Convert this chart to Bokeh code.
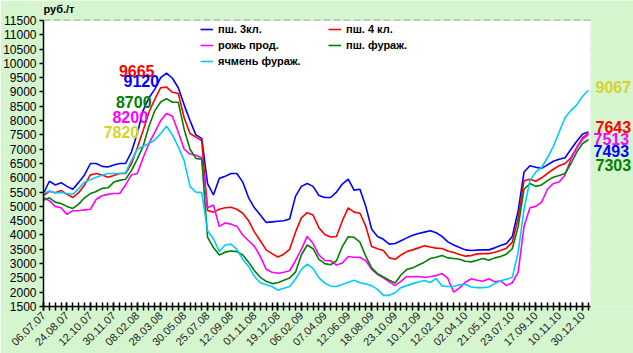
import math
from bokeh.plotting import figure
from bokeh.models import FixedTicker, Range1d, Legend, LegendItem, Label, BoxAnnotation
from bokeh.embed import file_html
from bokeh.resources import INLINE

# category tick labels (every 4th point)
tick_labels = ["06.07.07", "24.08.07", "12.10.07", "30.11.07", "08.02.08", "28.03.08",
               "30.05.08", "25.07.08", "12.09.08", "01.11.08", "19.12.08", "06.02.09",
               "07.04.09", "12.06.09", "18.08.09", "23.10.09", "10.12.09", "12.02.10",
               "02.04.10", "21.05.10", "23.07.10", "17.09.10", "10.11.10", "30.12.10"]

y_ticks = list(range(1500, 11501, 500))

wheat3 = [5450, 5880, 5750, 5830, 5700, 5600, 5840, 6100, 6500, 6500,
          6400, 6380, 6450, 6500, 6500, 6900, 7550, 8360, 8800, 9100,
          9500, 9660, 9480, 9150, 8550, 8000, 7500, 7380, 5800, 5400,
          5980, 6050, 6150, 6150, 5850, 5300, 4950, 4700, 4440, 4460,
          4480, 4500, 4560, 5350, 5700, 5800, 5700, 5380, 5310, 5310,
          5500, 5780, 5950, 5570, 5600, 5000, 4200, 3950, 3850, 3680,
          3700, 3800, 3900, 3990, 4050, 4100, 4150, 4080, 3950, 3760,
          3650, 3560, 3480, 3460, 3470, 3480, 3480, 3550, 3630, 3700,
          3950, 4850, 6200, 6420, 6370, 6330, 6450, 6580, 6650, 6700,
          7000, 7280, 7530, 7600]

wheat4 = [5380, 5530, 5480, 5560, 5420, 5310, 5480, 5750, 6100, 6150,
          6100, 6020, 6080, 6150, 6150, 6480, 7050, 7650, 8300, 8750,
          9150, 9170, 8990, 8950, 8100, 7550, 7420, 7300, 4860, 4800,
          4900, 4950, 4970, 4900, 4760, 4500, 4100, 3800, 3480, 3350,
          3230, 3330, 3500, 4100, 4600, 4780, 4700, 4250, 4020, 3930,
          3950, 4500, 4950, 4800, 4760, 4300, 3600, 3520, 3460, 3200,
          3150, 3300, 3420, 3480, 3550, 3620, 3580, 3540, 3530, 3440,
          3390, 3320, 3260, 3280, 3340, 3350, 3350, 3400, 3460, 3540,
          3750, 4600, 5900, 5950, 5880, 6000, 6150, 6300, 6420, 6500,
          6700, 7050, 7400, 7550]

rye = [5310, 5200, 5000, 4950, 4720, 4850, 4850, 4880, 4900, 5250,
       5370, 5420, 5450, 5450, 5750, 6100, 6150, 6700, 7200, 7600,
       8000, 8250, 8150, 7600, 7000, 6830, 6790, 6700, 4950, 5050,
       4300, 4420, 4380, 4300, 4000, 3800, 3600, 3250, 2800, 2700,
       2660, 2700, 2750, 3100, 3500, 3950, 3700, 3300, 3110, 3100,
       2950, 3020, 3250, 3220, 3220, 3100, 2800, 2620, 2500, 2360,
       2230, 2380, 2550, 2540, 2550, 2520, 2540, 2580, 2650, 2480,
       2000, 2150, 2350, 2470, 2420, 2380, 2470, 2360, 2400, 2230,
       2330, 2700, 4300, 4950, 5000, 5150, 5600, 5800, 5850, 6100,
       6650, 7050, 7350, 7520]

wheat_feed = [5210, 5300, 5150, 5100, 5000, 4930, 5080, 5300, 5450, 5520,
              5630, 5650, 5850, 5910, 5950, 6250, 6650, 7100, 7800, 8350,
              8650, 8770, 8640, 8640, 7700, 7000, 6680, 6650, 3920, 3560,
              3300, 3400, 3440, 3420, 3300, 3050, 2750, 2520, 2380, 2300,
              2330, 2420, 2500, 2700, 3300, 3650, 3520, 3150, 3000, 2960,
              3100, 3600, 3940, 3920, 3750, 3250, 2850, 2650, 2530, 2420,
              2320, 2600, 2800, 2850, 2950, 3050, 3180, 3220, 3280, 3200,
              3180, 3150, 3080, 3060, 3120, 3180, 3120, 3200, 3250, 3330,
              3520, 4300, 5600, 5800, 5700, 5750, 5900, 6020, 6080, 6150,
              6500, 6900, 7200, 7340]

barley_feed = [5450, 5540, 5470, 5490, 5450, 5420, 5620, 5850, 5930, 6020,
               6090, 6150, 6150, 6150, 6170, 6600, 7000, 7100, 7200, 7320,
               7550, 7800, 7500, 7080, 6600, 5700, 5500, 5480, 4150, 3870,
               3420, 3650, 3680, 3500, 3150, 2900, 2550, 2330, 2260, 2200,
               2070, 2140, 2200, 2450, 2800, 2980, 2830, 2500, 2320, 2210,
               2200, 2270, 2350, 2420, 2330, 2290, 2230, 2100, 1890, 1890,
               1980, 2160, 2230, 2300, 2360, 2410, 2340, 2480, 2220, 2200,
               2200, 2260, 2280, 2180, 2160, 2160, 2180, 2300, 2400, 2450,
               2520, 3400, 4900, 5900, 6200, 6360, 6700, 7100, 7600, 8100,
               8350, 8550, 8850, 9060]

series_names = ["пш. 3кл.", "пш. 4 кл.", "рожь прод.", "пш. фураж.", "ячмень фураж."]
series_colors = ["#0000ff", "#ff0000", "#ff00ff", "#008000", "#00ccff"]
series_data = [wheat3, wheat4, rye, wheat_feed, barley_feed]

# peak annotations: (text, x index, value, colour, y offset px)
peak_notes = [("9665", 15.9, 9665, "#ff0000", 2),
              ("9120", 16.7, 9120, "#0000ff", 8),
              ("8700", 15.4, 8700, "#008000", -1),
              ("8200", 14.8, 8200, "#ff00ff", -2),
              ("7820", 13.3, 7820, "#d4d42c", -6)]
# final-value annotations: (text, value, colour, x offset px, y offset px)
end_notes = [("9067", 9067, "#d4d42c", 7, 3),
             ("7643", 7643, "#ff0000", 7, 4),
             ("7513", 7513, "#ff00ff", 5, -4),
             ("7493", 7493, "#0000ff", 5, -16),
             ("7303", 7303, "#008000", 7, -24)]

n = len(wheat3)
xs = list(range(n))
x_end = 93.35          # end of the plotting area (category units)
y_lo, y_hi = 1500, 11500

p = figure(width=633, height=353, output_backend="svg", toolbar_location=None,
           x_range=Range1d(0, 100.68), y_range=Range1d(y_lo, 12199),
           min_border_left=43, min_border_right=0, min_border_top=0, min_border_bottom=47)
p.border_fill_color = "#d5f5cf"
p.background_fill_color = "#d5f5cf"
p.outline_line_color = None

# white plotting area
p.add_layout(BoxAnnotation(left=0, right=x_end, bottom=y_lo, top=y_hi,
                           fill_color="white", fill_alpha=1, line_color=None,
                           level="underlay"))

p.xgrid.grid_line_color = None
p.ygrid.grid_line_color = None
grid_vals = [v for v in y_ticks if v > y_lo]
p.segment(x0=[0] * len(grid_vals), y0=grid_vals, x1=[x_end] * len(grid_vals), y1=grid_vals,
          line_color="#808080", line_dash="7 3", line_width=1.5, level="underlay")

p.yaxis.ticker = FixedTicker(ticks=y_ticks)
p.yaxis.bounds = (y_lo, y_hi)
p.yaxis.minor_tick_line_color = None
p.yaxis.major_tick_in = 0
p.yaxis.major_tick_out = 4
p.yaxis.axis_line_width = 1.5
p.yaxis.major_tick_line_width = 1.5
p.yaxis.axis_line_color = "black"
p.yaxis.major_label_text_font = "Liberation Sans"
p.yaxis.major_label_text_font_size = "12px"
p.yaxis.major_label_text_color = "black"
p.yaxis.major_label_standoff = 3

label_pos = list(range(0, 4 * len(tick_labels), 4))
p.xaxis.ticker = FixedTicker(ticks=label_pos, minor_ticks=list(range(0, n)))
p.xaxis.bounds = (0, x_end)
p.xaxis.major_label_overrides = {k: t for k, t in zip(label_pos, tick_labels)}
p.xaxis.major_label_orientation = math.pi / 4
p.xaxis.major_tick_in = 4
p.xaxis.major_tick_out = 4
p.xaxis.minor_tick_in = 4
p.xaxis.minor_tick_out = 4
p.xaxis.axis_line_width = 1.5
p.xaxis.major_tick_line_width = 1.5
p.xaxis.minor_tick_line_width = 1.5
p.xaxis.minor_tick_line_color = "black"
p.xaxis.axis_line_color = "black"
p.xaxis.major_label_text_font = "Liberation Sans"
p.xaxis.major_label_text_font_size = "11px"
p.xaxis.major_label_text_color = "#222222"
p.xaxis.major_label_standoff = 3

items = []
for name, color, data in zip(series_names, series_colors, series_data):
    r = p.line(xs, data, line_color=color, line_width=1.6)
    items.append(LegendItem(label=name, renderers=[r]))

legend = Legend(items=items, orientation="horizontal", ncols=2, location=(157, 237),
                glyph_width=13, glyph_height=16, label_height=16, label_width=110,
                label_standoff=5, spacing=0, padding=0, margin=0,
                label_text_font="Liberation Sans", label_text_font_style="bold",
                label_text_font_size="11px", label_text_color="black",
                background_fill_alpha=0, border_line_color=None)
p.add_layout(legend)

for text, xi, yv, color, yoff in peak_notes:
    p.add_layout(Label(x=xi, y=yv, text=text, text_color=color, text_align="center",
                       text_baseline="middle", y_offset=yoff,
                       text_font="Liberation Sans", text_font_style="bold",
                       text_font_size="16px"))

for text, yv, color, xoff, yoff in end_notes:
    p.add_layout(Label(x=n - 1, y=yv, text=text, text_color=color, text_align="left",
                       text_baseline="middle", x_offset=xoff, y_offset=yoff,
                       text_font="Liberation Sans", text_font_style="bold",
                       text_font_size="16px"))

p.add_layout(Label(x=0, y=y_hi, text="руб./т", text_color="black", text_align="left",
                   text_baseline="bottom", y_offset=5, text_font="Liberation Sans",
                   text_font_style="bold", text_font_size="11px"))

open("out.html", "w").write(file_html(p, INLINE))
